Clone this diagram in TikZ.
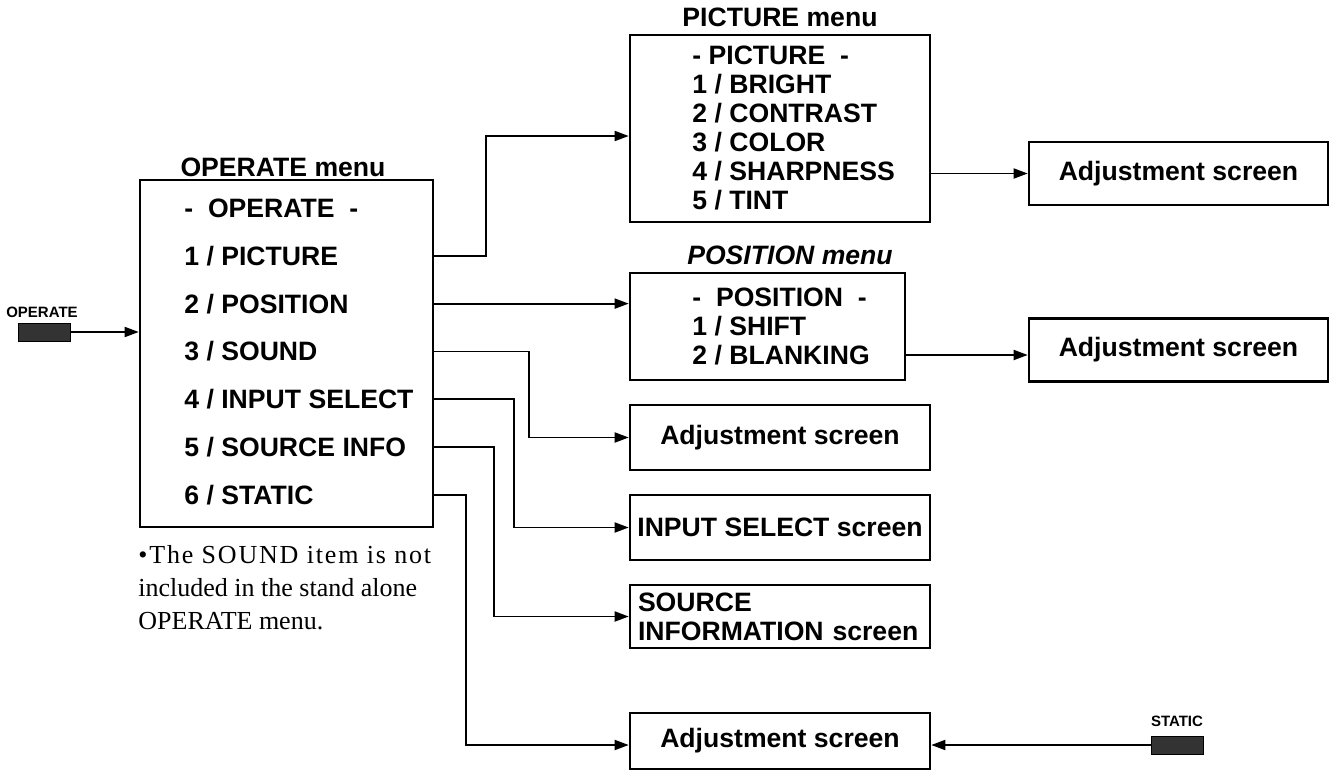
\documentclass[tikz,border=0pt]{standalone}
\usepackage{fontspec}
\setmainfont{Liberation Sans}
\newfontfamily\notefont{Liberation Serif}
\usetikzlibrary{arrows.meta, positioning, calc}

\begin{document}
\begin{tikzpicture}[x=0.5pt, y=-0.5pt,
    box/.style={draw, line width=1.3pt, inner sep=0pt},
    row/.style={anchor=west, inner sep=0pt, text height=9.5pt, text depth=0pt, font=\bfseries\fontsize{13.3}{16}\selectfont},
    head/.style={inner sep=0pt, text height=9.5pt, text depth=0pt, font=\bfseries\fontsize{13.3}{16}\selectfont},
    screen/.style={box, minimum width=150pt, minimum height=32pt, font=\bfseries\fontsize{13.3}{14.5}\selectfont},
    key/.style={draw, fill=black!80, minimum width=26pt, minimum height=9pt, inner sep=0pt},
    keylabel/.style={inner sep=0pt, font=\bfseries\fontsize{7.5}{9}\selectfont},
    link/.style={line width=0.9pt, -{Triangle[length=7pt, width=5pt]}}]

    \useasboundingbox (0,0) rectangle (1335,772);

    % OPERATE menu
    \node[box, minimum width=146.5pt, minimum height=173.5pt] (opbox) at (286.5,353.5) {};
    \node[head] (optitle) at (283,167) {OPERATE menu};
    \foreach \t [count=\i from 0] in {{- \ OPERATE \ -}, {1 / PICTURE}, {2 / POSITION}, {3 / SOUND}, {4 / INPUT SELECT}, {5 / SOURCE INFO}, {6 / STATIC}} {
        \node[row] (op\i) at (184, 208+\i*47.8) {\t};
    }

    % PICTURE menu
    \node[box, minimum width=150pt, minimum height=93.5pt] (picbox) at (780,128.5) {};
    \node[head] (pictitle) at (780,17) {PICTURE menu};
    \foreach \t [count=\i from 0] in {{- PICTURE \ -}, {1 / BRIGHT}, {2 / CONTRAST}, {3 / COLOR}, {4 / SHARPNESS}, {5 / TINT}} {
        \node[row] (pic\i) at (692, 55+\i*29) {\t};
    }

    % POSITION menu
    \node[box, minimum width=137.5pt, minimum height=53.5pt] (posbox) at (767.5,326.5) {};
    \node[head, font=\bfseries\itshape\fontsize{13.3}{16}\selectfont] (postitle) at (790,255) {POSITION menu};
    \foreach \t [count=\i from 0] in {{- \ POSITION \ -}, {1 / SHIFT}, {2 / BLANKING}} {
        \node[row] (pos\i) at (692, 297+\i*29) {\t};
    }

    % Screens
    \node[screen, minimum width=149.5pt, minimum height=31.5pt] (adjpic) at (1178.5,173.5) {Adjustment screen};
    \node[screen, minimum width=149.5pt, minimum height=31.5pt] (adjpos) at (1178.5,350) {Adjustment screen};
    \node[screen, minimum height=32.5pt] (adjsnd) at (780,437.5) {Adjustment screen};
    \node[screen, minimum height=32.5pt] (insel) at (780,527.5) {INPUT SELECT screen};
    \node[screen, minimum height=31.5pt, align=left, text width=142pt] (srcinfo) at (780,616.5) {SOURCE\\INFORMATION screen};
    \node[screen, minimum height=28pt] (adjst) at (780,741) {Adjustment screen};

    % Keys
    \node[key] (opkey) at (44,332) {};
    \node[keylabel] (oplabel) at (42,312) {OPERATE};
    \node[key] (stkey) at (1177.5,745) {};
    \node[keylabel] (stlabel) at (1177,721) {STATIC};

    % Connections
    \draw[link] (opkey.east) -- (opkey.east -| opbox.west);
    \draw[link] (op1 -| opbox.east) -- ++(52,0) |- (picbox.west |- 0,136);
    \draw[link] (op2 -| opbox.east) -- (op2 -| posbox.west);
    \draw[link] (op3 -| opbox.east) -- ++(95,0) |- (adjsnd);
    \draw[link] (op4 -| opbox.east) -- ++(80,0) |- (insel);
    \draw[link] (op5 -| opbox.east) -- ++(60,0) |- (srcinfo);
    \draw[link] (op6 -| opbox.east) -- ++(32,0) |- (adjst.west |- stkey);
    \draw[link] (picbox.east |- adjpic) -- (adjpic);
    \draw[link] (pos2 -| posbox.east) -- (pos2 -| adjpos.west);
    \draw[link] (stkey.west) -- (stkey.west -| adjst.east);

    % Note
    \node[anchor=north west, align=left, inner sep=0pt, font=\notefont\fontsize{13}{16.5}\selectfont] (note) at (138,545) {{\addfontfeature{LetterSpace=7}\textbullet The SOUND item is not}\\included in the stand alone\\OPERATE menu.};
\end{tikzpicture}
\end{document}
